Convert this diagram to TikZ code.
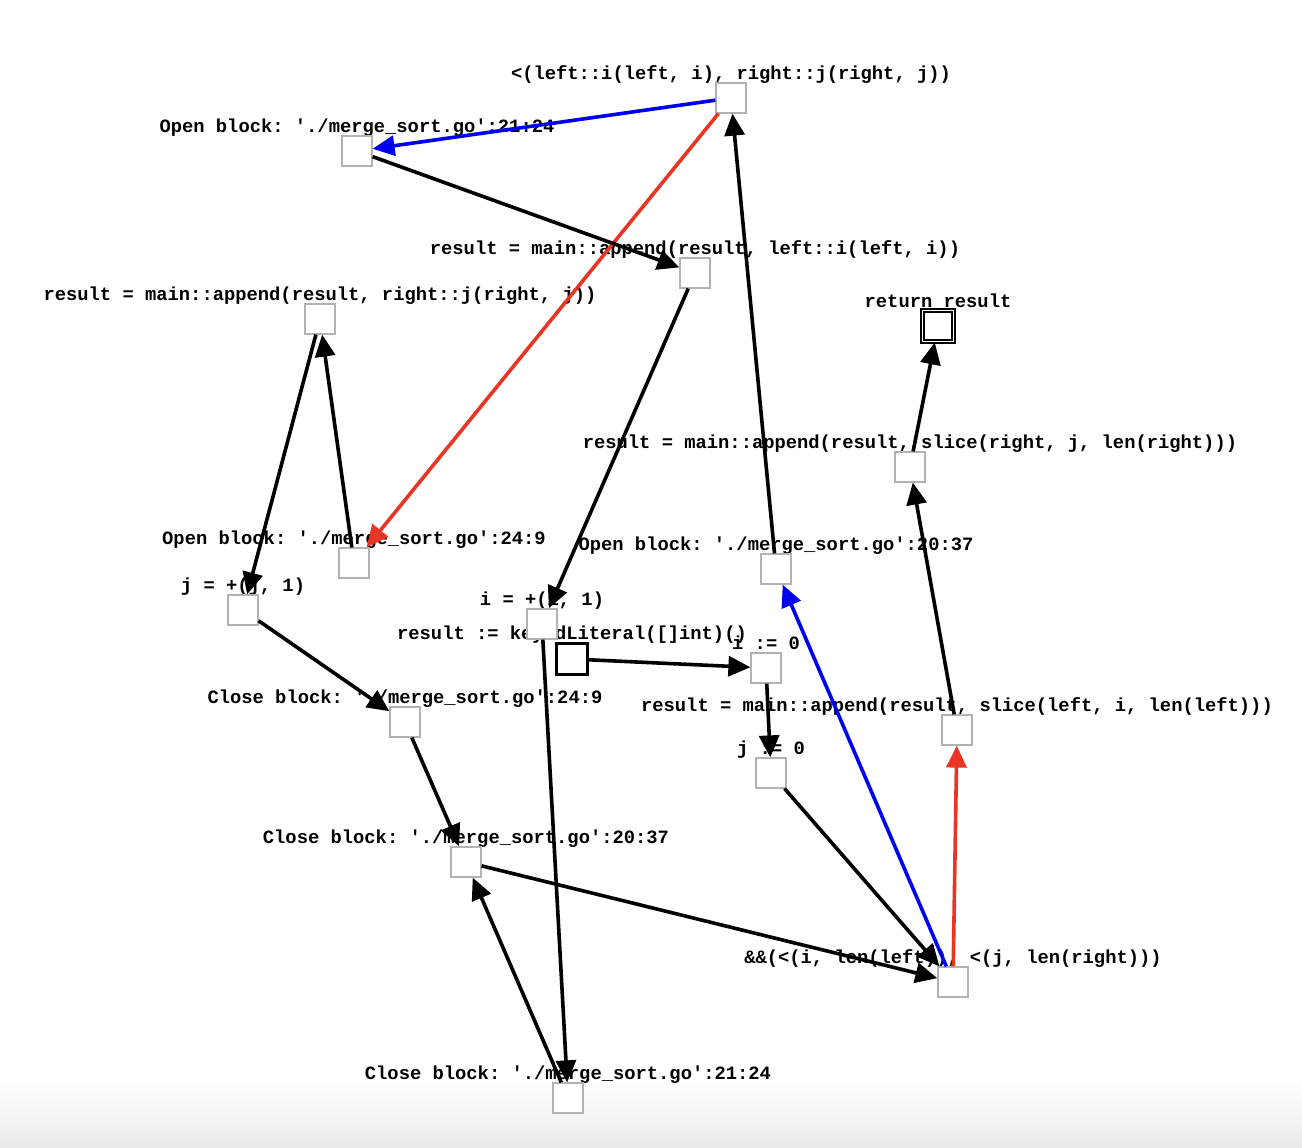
\documentclass[tikz,border=0pt]{standalone}
\usepackage{fontspec}
\setmonofont{Liberation Mono}
\usetikzlibrary{arrows.meta,calc}
\definecolor{gbox}{RGB}{178,178,178}
\definecolor{ered}{RGB}{234,52,36}
\definecolor{eblue}{RGB}{0,0,240}
\pgfdeclarelayer{back}
\pgfdeclarelayer{bg}
\pgfsetlayers{back,bg,main}
\begin{document}
\begin{tikzpicture}[x=1pt,y=-1pt,
  box/.style={draw=gbox,line width=1.2pt,fill=white,minimum size=30pt,inner sep=0pt},
  startbox/.style={draw=black,line width=2.8pt,fill=white,minimum size=31pt,inner sep=0pt},
  retbox/.style={draw=black,line width=1.8pt,double=white,double distance=1.8pt,fill=white,minimum size=31pt,inner sep=0pt},
  lbl/.style={font=\ttfamily\bfseries\fontsize{18.8}{20}\selectfont,inner sep=0pt,anchor=base},
  edge/.style={line width=3.6pt,-{Triangle[length=22pt,width=20pt]}},
  bedge/.style={edge,draw=eblue},
  redge/.style={edge,draw=ered}]
\useasboundingbox (0,0) rectangle (1302,1148);
\begin{pgfonlayer}{back}
\fill[white] (0,0) rectangle (1302,1148);
\shade[top color=white,bottom color=gray!16] (0,1082) rectangle (1302,1148);
\end{pgfonlayer}
% boxes
\node[box] (lt) at (731,98) {};
\node[box] (ob2124) at (357,151) {};
\node[box] (appL) at (695,273) {};
\node[box] (appR) at (320,319) {};
\node[retbox] (ret) at (938,326) {};
\node[box] (sliceR) at (910,467) {};
\node[box] (ob249) at (354,563) {};
\node[box] (ob2037) at (776,569) {};
\node[box] (jinc) at (243,610) {};
\node[startbox] (start) at (572,659) {};
\node[box] (iinc) at (542,624) {};
\node[box] (i0) at (766,668) {};
\node[box] (sliceL) at (957,730) {};
\node[box] (cb249) at (405,722) {};
\node[box] (j0) at (771,773) {};
\node[box] (cb2037) at (466,862) {};
\node[box] (cond) at (953,982) {};
\node[box] (cb2124) at (568,1098) {};
% labels
\begin{pgfonlayer}{bg}
\node[lbl] (lt-l) at ($(lt.north)+(0,-3)$) {<(left::i(left, i), right::j(right, j))};
\node[lbl] (ob2124-l) at ($(ob2124.north)+(0,-3)$) {Open block: './merge\_sort.go':21:24};
\node[lbl] (appL-l) at ($(appL.north)+(0,-3)$) {result = main::append(result, left::i(left, i))};
\node[lbl] (appR-l) at ($(appR.north)+(0,-3)$) {result = main::append(result, right::j(right, j))};
\node[lbl] (ret-l) at ($(ret.north)+(0,-2)$) {return result};
\node[lbl] (sliceR-l) at ($(sliceR.north)+(0,-3)$) {result = main::append(result, slice(right, j, len(right)))};
\node[lbl] (ob249-l) at ($(ob249.north)+(0,-3)$) {Open block: './merge\_sort.go':24:9};
\node[lbl] (ob2037-l) at ($(ob2037.north)+(0,-3)$) {Open block: './merge\_sort.go':20:37};
\node[lbl] (jinc-l) at ($(jinc.north)+(0,-3)$) {j = +(j, 1)};
\node[lbl] (iinc-l) at ($(iinc.north)+(0,-3)$) {i = +(i, 1)};
\node[lbl] (start-l) at ($(start.north)+(0,-3)$) {result := keyedLiteral([]int)()};
\node[lbl] (i0-l) at ($(i0.north)+(0,-3)$) {i := 0};
\node[lbl] (sliceL-l) at ($(sliceL.north)+(0,-3)$) {result = main::append(result, slice(left, i, len(left)))};
\node[lbl] (cb249-l) at ($(cb249.north)+(0,-3)$) {Close block: './merge\_sort.go':24:9};
\node[lbl] (j0-l) at ($(j0.north)+(0,-3)$) {j := 0};
\node[lbl] (cb2037-l) at ($(cb2037.north)+(0,-3)$) {Close block: './merge\_sort.go':20:37};
\node[lbl] (cond-l) at ($(cond.north)+(0,-3)$) {\&\&(<(i, len(left)), <(j, len(right)))};
\node[lbl] (cb2124-l) at ($(cb2124.north)+(0,-3)$) {Close block: './merge\_sort.go':21:24};
\end{pgfonlayer}
% edges
\draw[bedge] (lt) -- (ob2124);
\draw[redge] (lt) -- (ob249);
\draw[edge] (ob2124) -- (appL);
\draw[edge] (appL) -- (iinc);
\draw[edge] (iinc) -- (cb2124);
\draw[edge] (cb2124) -- (cb2037);
\draw[edge] (cb2037) -- (cond);
\draw[bedge] (cond) -- (ob2037);
\draw[redge] (cond) -- (sliceL);
\draw[edge] (ob2037) -- (lt);
\draw[edge] (sliceL) -- (sliceR);
\draw[edge] (sliceR) -- (ret);
\draw[edge] (ob249) -- (appR);
\draw[edge] (appR) -- (jinc);
\draw[edge] (jinc) -- (cb249);
\draw[edge] (cb249) -- (cb2037);
\draw[edge] (start) -- (i0);
\draw[edge] (i0) -- (j0);
\draw[edge] (j0) -- (cond);
\end{tikzpicture}
\end{document}
